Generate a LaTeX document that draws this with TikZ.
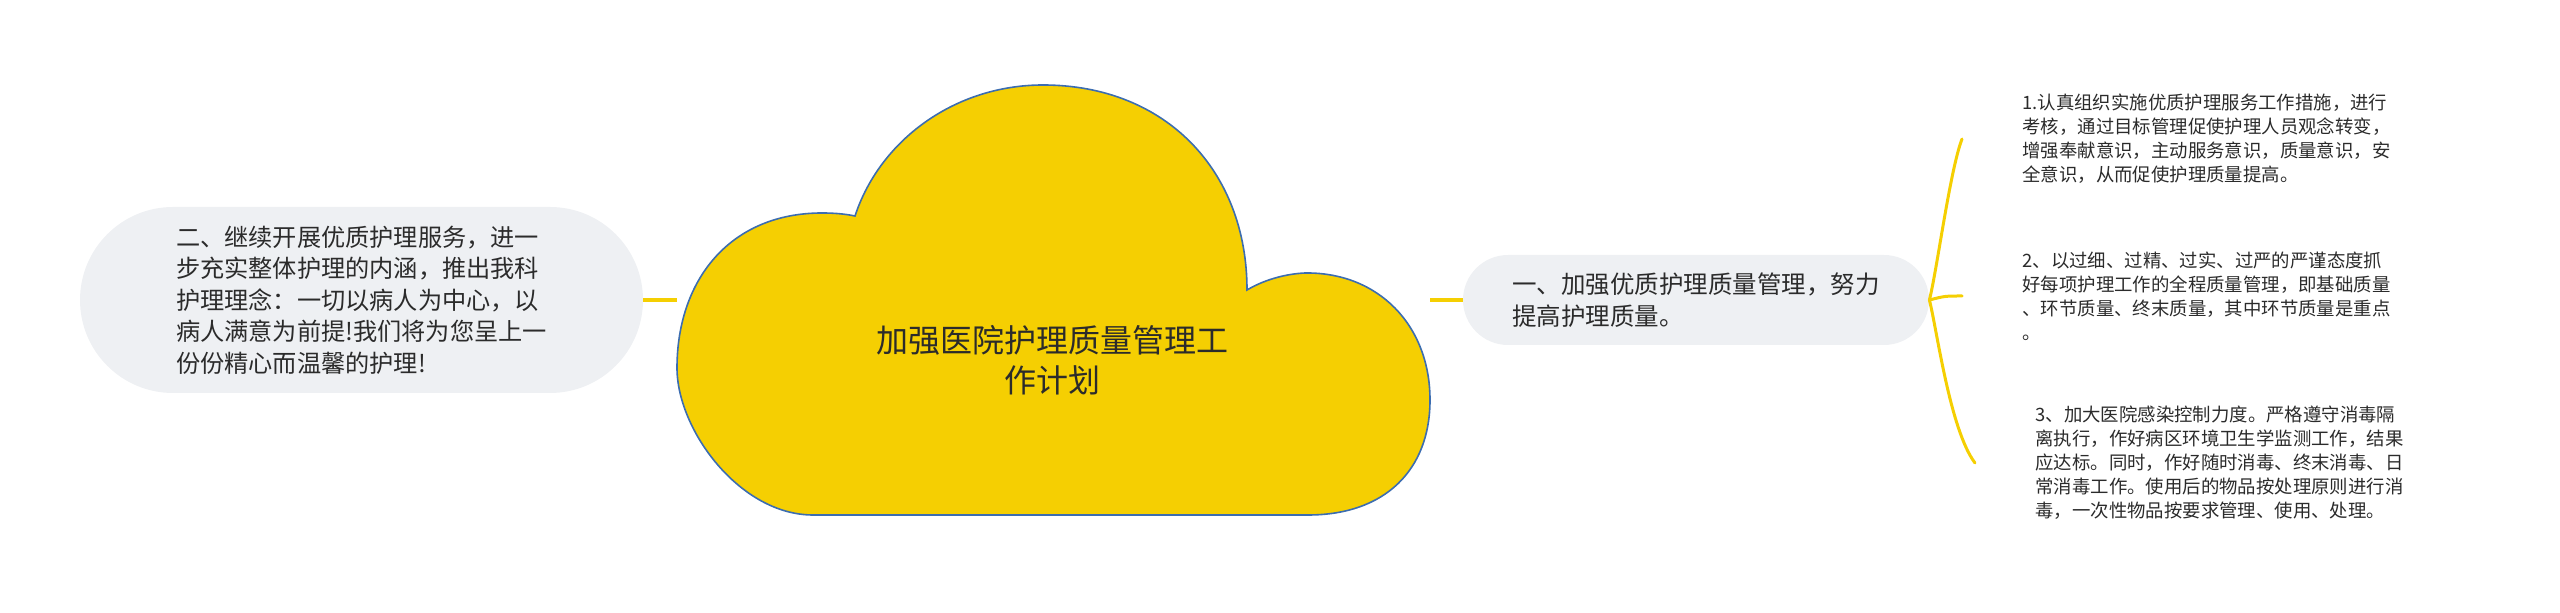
\documentclass[tikz,border=0pt]{standalone}
\usepackage{fontspec}
\setmainfont{Noto Sans CJK SC}
\usetikzlibrary{positioning,calc}
\definecolor{cloudyellow}{HTML}{F5CF02}
\definecolor{cloudblue}{HTML}{3C6DB0}
\definecolor{pillgray}{HTML}{EEF0F3}
\definecolor{inkgray}{HTML}{2B2B2B}

\begin{document}
\begin{tikzpicture}[x=0.5pt,y=-0.5pt,
  topic node/.style={fill=pillgray,text=inkgray,align=left,inner sep=0pt},
  leaf node/.style={anchor=west,text=inkgray,align=left,inner xsep=30pt,inner ysep=0pt,
    font=\fontsize{9.2pt}{12pt}\selectfont},
  link/.style={draw=cloudyellow,line width=2pt},
  twig/.style={draw=cloudyellow,line width=1.5pt,line cap=round}]
  \useasboundingbox (0,0) rectangle (2560,613);
  % the cloud
  \filldraw[fill=cloudyellow,draw=cloudblue,line width=0.8pt]
    (813,515) -- (1308,515)
    .. controls (1385,515) and (1430,470) .. (1430,400)
    .. controls (1430,325) and (1378,272) .. (1305,273)
    .. controls (1283,274) and (1262,281) .. (1247,290)
    .. controls (1247,170) and (1165,85) .. (1043,85)
    .. controls (955,85) and (880,140) .. (855,216)
    .. controls (845,214) and (835,213) .. (822,213)
    .. controls (730,213) and (677,280) .. (677,368)
    .. controls (677,430) and (740,515) .. (813,515) -- cycle;
  \node[minimum width=376.5pt,minimum height=215pt,inner sep=0pt] (cloud) at (1053.5,300) {};
  \node[text=inkgray,align=center,font=\fontsize{16pt}{20pt}\selectfont] (title) at (1052,360)
    {加强医院护理质量管理工\\作计划};
  % main topics
  \node[topic node,minimum width=281.5pt,minimum height=93pt,rounded corners=46.5pt,
    font=\fontsize{12.1pt}{15.75pt}\selectfont] (second) at (361.5,300)
    {二、继续开展优质护理服务，进一\\步充实整体护理的内涵，推出我科\\护理理念：一切以病人为中心，以\\病人满意为前提!我们将为您呈上一\\份份精心而温馨的护理!};
  \node[topic node,minimum width=233pt,minimum height=45pt,rounded corners=22.5pt,
    font=\fontsize{12.25pt}{16pt}\selectfont] (first) at (1696,300)
    {一、加强优质护理质量管理，努力\\提高护理质量。};
  % leaves
  \node[leaf node] (t1) at (1962,139)
    {1.认真组织实施优质护理服务工作措施，进行\\考核，通过目标管理促使护理人员观念转变，\\增强奉献意识，主动服务意识，质量意识，安\\全意识，从而促使护理质量提高。};
  \node[leaf node] (t2) at (1962,296)
    {2、以过细、过精、过实、过严的严谨态度抓\\好每项护理工作的全程质量管理，即基础质量\\、环节质量、终末质量，其中环节质量是重点\\。};
  \node[leaf node] (t3) at (1975,463)
    {3、加大医院感染控制力度。严格遵守消毒隔\\离执行，作好病区环境卫生学监测工作，结果\\应达标。同时，作好随时消毒、终末消毒、日\\常消毒工作。使用后的物品按处理原则进行消\\毒，一次性物品按要求管理、使用、处理。};
  % connectors
  \draw[link] (second.east) -- (cloud.west);
  \draw[link] (cloud.east) -- (first.west);
  \draw[twig] (first.east) .. controls (1937,270) and (1950,170) .. (t1.west);
  \draw[twig] (first.east) .. controls (1945,296) .. (t2.west);
  \draw[twig] (first.east) .. controls (1937,330) and (1950,430) .. (t3.west);
\end{tikzpicture}
\end{document}
